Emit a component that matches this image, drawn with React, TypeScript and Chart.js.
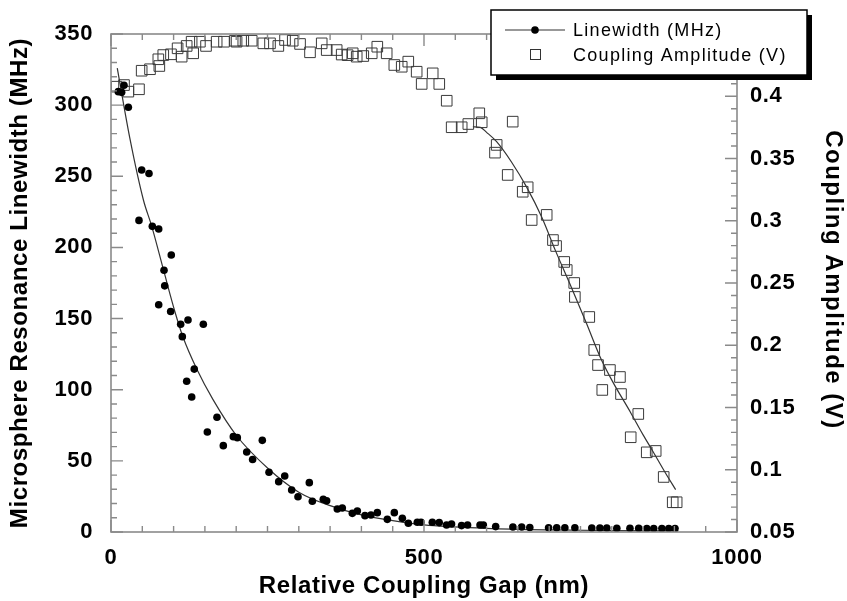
import React, { useEffect, useRef } from 'react';
import { Chart, registerables } from 'chart.js';

Chart.register(...registerables);

// ---- data ----
const gapLinewidth = [11.7, 17, 20.8, 27.7, 44.7, 49, 60.7, 66, 76.2, 76.2, 84.7, 85.8, 95.3, 96.3, 111.3, 113.9, 120.9, 123, 128.9, 133, 147.5, 153.9, 169.3, 179.4, 195.4, 201.8, 216.8, 226.2, 241.7, 252.4, 267.9, 277.5, 288.6, 298.7, 316.8, 321.6, 339.1, 344.5, 361.5, 369.5, 385.5, 393.5, 405.7, 415.3, 425.4, 441.4, 452.6, 465.4, 475, 489.3, 495.2, 513.3, 524.3, 536, 544, 560, 569.6, 589.5, 594.8, 614.5, 642, 656, 669, 699, 712, 725, 741, 768, 781, 792, 808, 829, 843, 856, 867, 880, 891, 901];
const linewidthMHz = [309.5, 309, 314, 298.5, 219, 254.4, 252, 214.8, 213, 159.7, 184, 173, 155, 194.7, 146, 137.3, 106, 149, 94.9, 114.5, 146, 70.3, 80.6, 60.7, 67, 66.3, 56.2, 51, 64.4, 42, 35.4, 39.4, 29.5, 24.8, 34.7, 21.6, 23, 22, 16.2, 16.9, 13.1, 14.8, 11.5, 12, 13.6, 8.9, 13.6, 9.6, 6.1, 6.8, 6.8, 6.8, 6.6, 4.9, 5.6, 4.5, 4.9, 4.9, 4.9, 3.8, 3.5, 3.5, 3.2, 3, 3, 3, 3, 2.8, 2.8, 2.8, 2.6, 2.6, 2.6, 2.5, 2.5, 2.5, 2.5, 2.5];

const gapCoupling = [9, 20.8, 27.7, 44.7, 49, 62.3, 77.2, 75.6, 83.5, 95.8, 112.9, 106.4, 120.9, 131.3, 128.8, 142, 151.8, 168.8, 180.5, 198, 200.6, 211.3, 224.8, 243.3, 254, 267.3, 278, 290.3, 302, 317.9, 336.6, 344.6, 360.5, 368.5, 378, 386.1, 392.5, 403, 416.5, 425.4, 440.4, 452.6, 464.4, 474.9, 488.3, 513.9, 496.3, 524.4, 536.3, 544.2, 560.2, 570.8, 588.3, 592.2, 641.7, 616.1, 613.4, 633.7, 665.6, 657.7, 672, 696, 706, 711, 724, 728, 740, 741, 764, 772, 778, 797, 813, 784.8, 814.7, 842.3, 830.2, 855.8, 870.1, 882.9, 897.3, 903.6];
const couplingV = [0.4077, 0.409, 0.4037, 0.4056, 0.4205, 0.4217, 0.4243, 0.4297, 0.4331, 0.4337, 0.4318, 0.4385, 0.4404, 0.4345, 0.4438, 0.4438, 0.4404, 0.4438, 0.4438, 0.4446, 0.4438, 0.4446, 0.4446, 0.4425, 0.4425, 0.4404, 0.4452, 0.4446, 0.442, 0.4353, 0.4425, 0.4371, 0.4371, 0.4335, 0.433, 0.4345, 0.4318, 0.4323, 0.4345, 0.4398, 0.4345, 0.4251, 0.4237, 0.4278, 0.4197, 0.4184, 0.4099, 0.4099, 0.3964, 0.3751, 0.3751, 0.3777, 0.3863, 0.3791, 0.3796, 0.3609, 0.3547, 0.3368, 0.3269, 0.3233, 0.3006, 0.3047, 0.2845, 0.2797, 0.2669, 0.2604, 0.25, 0.2388, 0.2227, 0.1962, 0.1841, 0.1801, 0.1745, 0.1641, 0.1608, 0.1448, 0.1261, 0.114, 0.1151, 0.0942, 0.0739, 0.0739];

const fitLinewidthGap = [10, 30, 52, 65, 84, 102, 115, 137, 163, 200, 250, 300, 350, 400, 450, 500, 600, 700, 800, 906];
const fitLinewidthMHz = [326, 277, 233, 215, 184, 155, 137, 114.5, 93, 68, 45, 28, 18.5, 12, 8, 5, 2.6, 1.5, 1, 0.7];

const fitCouplingGap = [578, 590, 600, 616, 640, 664, 688, 710, 735, 760, 781, 800, 830, 850, 866, 885, 902];
const fitCouplingV = [0.3755, 0.375, 0.371, 0.3635, 0.347, 0.327, 0.303, 0.276, 0.247, 0.217, 0.191, 0.172, 0.146, 0.128, 0.1145, 0.098, 0.084];

const xTicks = [0, 500, 1000];
const xTickLabels = ['0', '500', '1000'];
const leftTicks = [0, 50, 100, 150, 200, 250, 300, 350];
const leftTickLabels = ['0', '50', '100', '150', '200', '250', '300', '350'];
const rightTicks = [0.05, 0.1, 0.15, 0.2, 0.25, 0.3, 0.35, 0.4];
const rightTickLabels = ['0.05', '0.1', '0.15', '0.2', '0.25', '0.3', '0.35', '0.4'];

const seriesLabels = ['Linewidth (MHz)', 'Coupling Amplitude (V)'];
const xTitle = 'Relative Coupling Gap (nm)';
const leftTitle = 'Microsphere Resonance Linewidth (MHz)';
const rightTitle = 'Coupling Amplitude (V)';

const FONT = "'Liberation Sans', Arial, Helvetica, sans-serif";

const zip = (xs: number[], ys: number[]) => xs.map((x, i) => ({ x, y: ys[i] }));

const spacingPlugin = {
  id: 'spacing',
  beforeLayout(chart: any) { chart.ctx.letterSpacing = '0.6px'; },
  beforeDraw(chart: any) { chart.ctx.letterSpacing = '0.6px'; },
};

const framePlugin = {
  id: 'frameTicks',
  afterDatasetsDraw(chart: any) {
    const { ctx, chartArea, scales } = chart;
    const { left, right, top, bottom } = chartArea;
    const x = scales.x, y = scales.y, y2 = scales.y2;
    ctx.save();
    ctx.strokeStyle = '#8a8a8a';
    ctx.lineWidth = 1.6;
    ctx.strokeRect(left, top, right - left, bottom - top);
    ctx.lineWidth = 1.4;
    ctx.beginPath();
    for (let v = 0; v <= 350; v += 10) {
      const py = y.getPixelForValue(v);
      const len = v % 50 === 0 ? 12 : 6;
      ctx.moveTo(left, py); ctx.lineTo(left + len, py);
    }
    for (let k = 5; k <= 45; k += 1) {
      const py = y2.getPixelForValue(k / 100);
      const len = k % 5 === 0 ? 12 : 6;
      ctx.moveTo(right, py); ctx.lineTo(right - len, py);
    }
    for (let v = 0; v <= 1000; v += 50) {
      const px = x.getPixelForValue(v);
      const len = v % 500 === 0 ? 12 : 6;
      ctx.moveTo(px, bottom); ctx.lineTo(px, bottom - len);
      ctx.moveTo(px, top); ctx.lineTo(px, top + len);
    }
    ctx.stroke();
    ctx.restore();
    // right axis title
    ctx.save();
    ctx.letterSpacing = '1.5px';
    ctx.font = `bold 24px ${FONT}`;
    ctx.fillStyle = '#000';
    ctx.translate(833, 280);
    ctx.rotate(Math.PI / 2);
    ctx.textAlign = 'center';
    ctx.textBaseline = 'middle';
    ctx.fillText(rightTitle, 0, 0);
    ctx.restore();
  },
};

const legendPlugin = {
  id: 'boxLegend',
  afterDraw(chart: any) {
    const { ctx } = chart;
    const bx = 491, by = 10, bw = 316, bh = 65;
    ctx.save();
    ctx.fillStyle = '#000';
    ctx.fillRect(bx + 5, by + 5, bw, bh);
    ctx.fillStyle = '#fff';
    ctx.fillRect(bx, by, bw, bh);
    ctx.strokeStyle = '#000';
    ctx.lineWidth = 1.5;
    ctx.strokeRect(bx, by, bw, bh);
    ctx.strokeStyle = '#333';
    ctx.lineWidth = 1.2;
    ctx.beginPath();
    ctx.moveTo(505, 30); ctx.lineTo(565, 30);
    ctx.stroke();
    ctx.fillStyle = '#000';
    ctx.beginPath();
    ctx.arc(535, 30, 3.8, 0, Math.PI * 2);
    ctx.fill();
    ctx.strokeStyle = '#333';
    ctx.lineWidth = 1;
    ctx.strokeRect(530.5, 49.5, 10, 10);
    ctx.letterSpacing = '1.3px';
    ctx.font = `18px ${FONT}`;
    ctx.fillStyle = '#000';
    ctx.textBaseline = 'middle';
    ctx.textAlign = 'left';
    ctx.fillText(seriesLabels[0], 573, 31);
    ctx.fillText(seriesLabels[1], 573, 56);
    ctx.restore();
  },
};

export default function App() {
  const ref = useRef<HTMLCanvasElement>(null);
  useEffect(() => {
    if (!ref.current) return;
    const tickFont = { family: FONT, size: 22, weight: 'bold' as const };
    const titleFont = { family: FONT, size: 24, weight: 'bold' as const, lineHeight: 1 };
    const chart = new Chart(ref.current, {
      type: 'scatter',
      data: {
        datasets: [
          {
            label: seriesLabels[0],
            data: zip(gapLinewidth, linewidthMHz),
            yAxisID: 'y',
            pointStyle: 'circle',
            pointRadius: 3.8,
            backgroundColor: '#000',
            borderColor: '#000',
            borderWidth: 0,
          },
          {
            label: seriesLabels[1],
            data: zip(gapCoupling, couplingV),
            yAxisID: 'y2',
            pointStyle: 'rect',
            pointRadius: 7.5,
            backgroundColor: 'rgba(0,0,0,0)',
            borderColor: '#3a3a3a',
            borderWidth: 1,
          },
          {
            label: 'fit1',
            data: zip(fitLinewidthGap, fitLinewidthMHz),
            yAxisID: 'y',
            showLine: true,
            pointRadius: 0,
            borderColor: '#333',
            borderWidth: 1.2,
            cubicInterpolationMode: 'monotone',
          },
          {
            label: 'fit2',
            data: zip(fitCouplingGap, fitCouplingV),
            yAxisID: 'y2',
            showLine: true,
            pointRadius: 0,
            borderColor: '#333',
            borderWidth: 1.2,
            cubicInterpolationMode: 'monotone',
          },
        ],
      } as any,
      options: {
        responsive: false,
        animation: false,
        devicePixelRatio: 1,
        layout: { padding: { top: 34, left: 0, right: 0, bottom: 0 } },
        plugins: { legend: { display: false }, tooltip: { enabled: false }, title: { display: false } },
        scales: {
          x: {
            type: 'linear',
            position: 'bottom',
            min: 0,
            max: 1000,
            afterBuildTicks: (s: any) => { s.ticks = xTicks.map((v) => ({ value: v })); },
            afterFit: (s: any) => { s.height = 69; },
            grid: { display: false, drawTicks: false },
            border: { display: false },
            ticks: { font: tickFont, color: '#000', padding: 13, maxRotation: 0, autoSkip: false, callback: (_v: any, i: number) => xTickLabels[i] },
            title: { display: true, text: xTitle, font: titleFont, color: '#000', padding: { top: 0, bottom: 3 } },
          },
          y: {
            type: 'linear',
            position: 'left',
            min: 0,
            max: 350,
            afterBuildTicks: (s: any) => { s.ticks = leftTicks.map((v) => ({ value: v })); },
            afterFit: (s: any) => { s.width = 111; },
            grid: { display: false, drawTicks: false },
            border: { display: false },
            ticks: { font: tickFont, color: '#000', padding: 18, autoSkip: false, callback: (_v: any, i: number) => leftTickLabels[i] },
            title: { display: true, text: leftTitle, font: titleFont, color: '#000', padding: { top: 8, bottom: 0 } },
          },
          y2: {
            type: 'linear',
            position: 'right',
            min: 0.05,
            max: 0.45,
            afterBuildTicks: (s: any) => { s.ticks = rightTicks.map((v) => ({ value: v })); },
            afterFit: (s: any) => { s.width = 110; },
            grid: { display: false, drawTicks: false },
            border: { display: false },
            ticks: { font: tickFont, color: '#000', padding: 13, autoSkip: false, callback: (_v: any, i: number) => rightTickLabels[i] },
            title: { display: false },
          },
        },
      } as any,
      plugins: [spacingPlugin, framePlugin, legendPlugin],
    });
    return () => chart.destroy();
  }, []);
  return (
    <div style={{ position: 'absolute', left: 0, top: 0, width: 847, height: 601, background: '#fff' }}>
      <canvas ref={ref} width={847} height={601} style={{ display: 'block', width: 847, height: 601 }} />
    </div>
  );
}
